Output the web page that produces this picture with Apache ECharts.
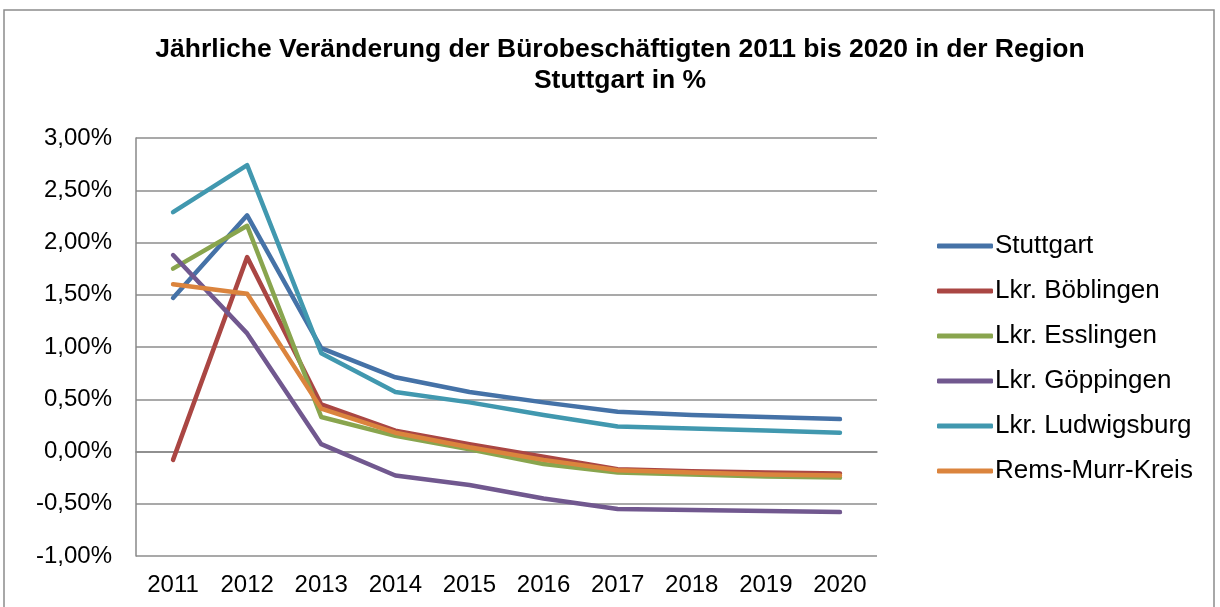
<meta charset="utf-8">
<script src="https://cdn.jsdelivr.net/npm/echarts@6/dist/echarts.min.js"></script>
<body style="margin:0">
<div id="chart" style="width:1220px;height:607px"></div>
<script>
var years = ['2011','2012','2013','2014','2015','2016','2017','2018','2019','2020'];
var stuttgart   = [1.47, 2.26, 0.99, 0.71, 0.57, 0.47, 0.38, 0.35, 0.33, 0.31];
var boeblingen  = [-0.08, 1.86, 0.45, 0.20, 0.07, -0.05, -0.17, -0.19, -0.20, -0.21];
var esslingen   = [1.75, 2.16, 0.33, 0.15, 0.02, -0.12, -0.20, -0.22, -0.24, -0.25];
var goeppingen  = [1.88, 1.13, 0.07, -0.23, -0.32, -0.45, -0.55, -0.56, -0.57, -0.58];
var ludwigsburg = [2.29, 2.74, 0.94, 0.57, 0.47, 0.35, 0.24, 0.22, 0.20, 0.18];
var remsmurr    = [1.60, 1.51, 0.41, 0.18, 0.04, -0.08, -0.18, -0.20, -0.22, -0.23];

var names  = ['Stuttgart','Lkr. Böblingen','Lkr. Esslingen','Lkr. Göppingen','Lkr. Ludwigsburg','Rems-Murr-Kreis'];
var values = [stuttgart, boeblingen, esslingen, goeppingen, ludwigsburg, remsmurr];
var colors = ['#4572A7','#AA4643','#89A54E','#71588F','#4198AF','#DB843D'];

var chart = echarts.init(document.getElementById('chart'));

var series = names.map(function(n, i){
	return { name: n, type: 'line', data: values[i], showSymbol: false, symbol: 'none',
		lineStyle: { width: 4.5, color: colors[i], cap: 'round', join: 'round' },
		itemStyle: { color: colors[i] } };
});

chart.setOption({
	animation: false,
	backgroundColor: '#fff',
	graphic: [{ type: 'rect', shape: { x: 4, y: 10, width: 1210, height: 610 },
		style: { fill: 'none', stroke: '#8c8c8c', lineWidth: 1.5 }, silent: true }],
	title: {
		text: 'Jährliche Veränderung der Bürobeschäftigten 2011 bis 2020 in der Region\nStuttgart in %',
		left: 615, top: 29, textAlign: 'center',
		textStyle: { fontFamily: 'Liberation Sans, Arial', fontWeight: 'bold', fontSize: 26.5, lineHeight: 31, color: '#000' }
	},
	grid: { left: 136, right: 343, top: 138, bottom: 51, containLabel: false },
	legend: {
		orient: 'vertical', left: 932, top: 228, itemGap: 19, itemWidth: 56, itemHeight: 5,
		icon: 'roundRect', itemStyle: { borderWidth: 0 },
		textStyle: { fontFamily: 'Liberation Sans, Arial', fontSize: 26, color: '#000', padding: [0,0,0,-3] },
		data: names
	},
	xAxis: {
		type: 'category', data: years, boundaryGap: true,
		axisLine: { lineStyle: { color: '#888', width: 1.5 } },
		axisTick: { show: false },
		axisLabel: { fontFamily: 'Liberation Sans, Arial', fontSize: 24, color: '#000', margin: 17 }
	},
	yAxis: {
		type: 'value', min: -1, max: 3, interval: 0.5,
		axisLine: { show: true, lineStyle: { color: '#888', width: 1.5 } },
		axisTick: { show: false },
		splitLine: { lineStyle: { color: '#8c8c8c', width: 1.5 } },
		axisLabel: { fontFamily: 'Liberation Sans, Arial', fontSize: 24, color: '#000', margin: 24,
			formatter: function(v){ return v.toFixed(2).replace('.', ',') + '%'; } }
	},
	series: series
});
</script>
</body>
